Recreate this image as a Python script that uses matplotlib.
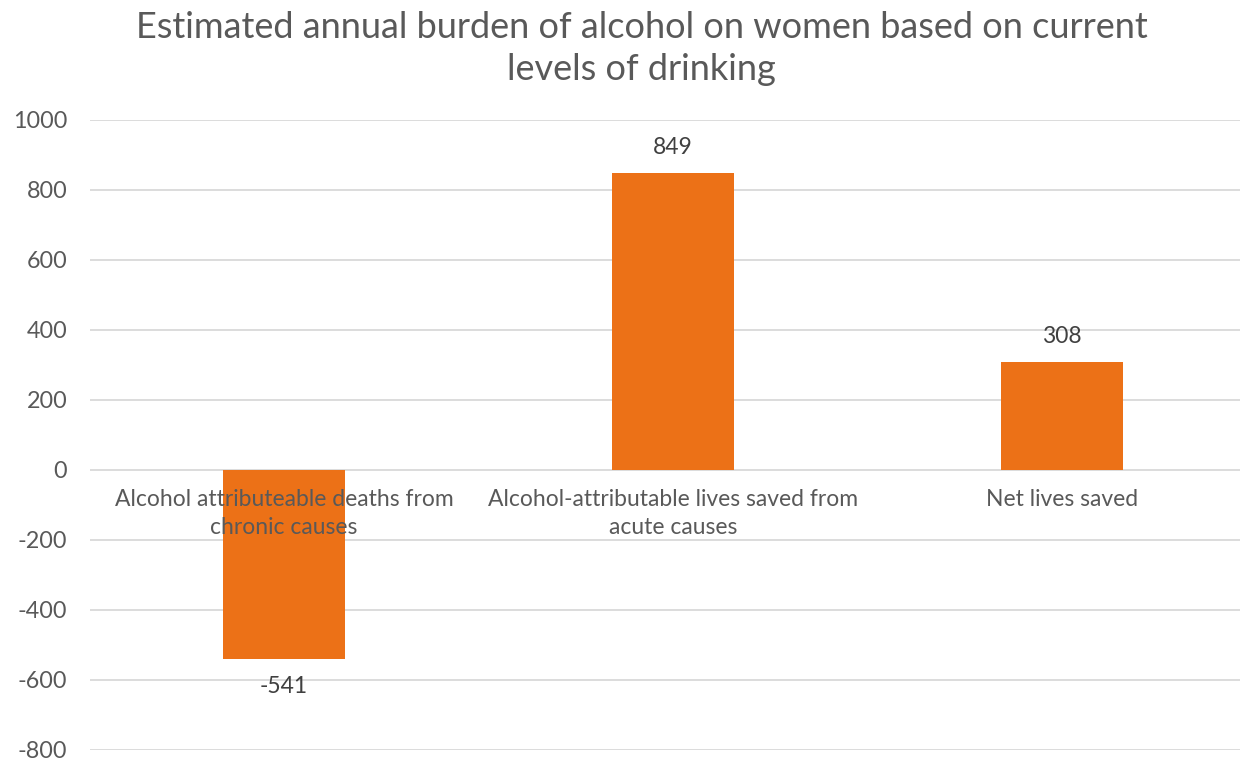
import matplotlib
matplotlib.use("Agg")
import matplotlib.pyplot as plt

categories = ["Alcohol attributeable deaths from\nchronic causes",
              "Alcohol-attributable lives saved from\nacute causes",
              "Net lives saved"]
values = [-541, 849, 308]
yticks = [-800, -600, -400, -200, 0, 200, 400, 600, 800, 1000]
title = "Estimated annual burden of alcohol on women based on current\nlevels of drinking"

plt.rcParams['font.family'] = ['Lato', 'DejaVu Sans']
TXT = '#595959'
BAR = '#EC7117'
GRID = '#D9D9D9'

W, H = 1240, 762
fig = plt.figure(figsize=(W/100, H/100), dpi=100)
left, right = 89.5, 1256.5
top, bottom = 120, 750
ax = fig.add_axes([left/W, (H-bottom)/H, (right-left)/W, (bottom-top)/H])

x = list(range(len(categories)))
ax.bar(x, values, width=0.314, color=BAR, zorder=2)
ax.set_xlim(-0.5, len(categories)-0.5)
ax.set_ylim(-800, 1000)
ax.set_yticks(yticks)
ax.set_yticklabels([str(v) for v in yticks])
ax.tick_params(axis='y', length=0, pad=16, labelsize=16.8, labelcolor=TXT)
ax.set_xticks([])
for s in ax.spines.values():
    s.set_visible(False)
ax.yaxis.grid(True, color=GRID, linewidth=1.3, zorder=0)
ax.set_axisbelow(True)

for xi, cat in zip(x, categories):
    ax.annotate(cat, (xi, 0), xytext=(0, -14), textcoords='offset points',
                ha='center', va='top', fontsize=16.5, color=TXT,
                linespacing=1.4, zorder=3)

for xi, v in zip(x, values):
    if v >= 0:
        ax.annotate(str(v), (xi, v), xytext=(0, 11), textcoords='offset points',
                    ha='center', va='bottom', fontsize=16.5, color='#404040', zorder=3)
    else:
        ax.annotate(str(v), (xi, v), xytext=(0, -12), textcoords='offset points',
                    ha='center', va='top', fontsize=16.5, color='#404040', zorder=3)

fig.text(641.5/W, 1 - 48.5/H, title, ha='center', va='center', fontsize=26,
         color=TXT, linespacing=1.34)

fig.savefig('out.png', dpi=100)
